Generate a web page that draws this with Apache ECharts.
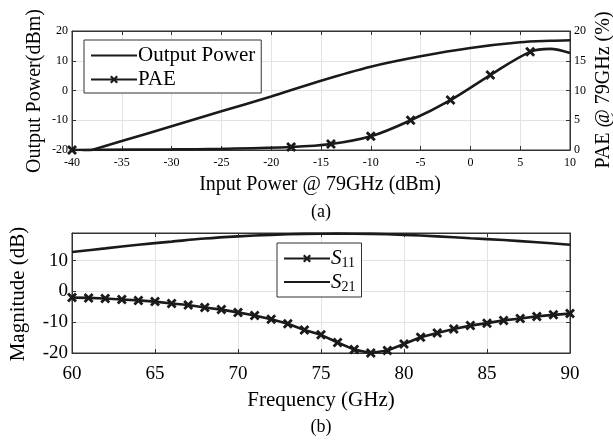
<!DOCTYPE html>
<html><head><meta charset="utf-8">
<script src="https://cdn.jsdelivr.net/npm/echarts@6/dist/echarts.min.js"></script>
<style>html,body{margin:0;padding:0;background:#fff}#c{width:613px;height:444px}</style>
</head><body><div id="c"></div>
<script>
// ---- Data: plot (a)
const pinX = [-40, -35, -30, -25, -20, -15, -10, -5, 0, 5, 8, 10];
const poutY = [-22, -17, -12, -7, -2, 3.3, 8, 11.5, 14.3, 16.2, 16.7, 16.9];
const paeX = [-40, -30, -25, -18, -14, -10, -6, -2, 2, 6, 8, 10];
const paeY = [0, 0.1, 0.2, 0.5, 1.0, 2.3, 5.0, 8.4, 12.6, 16.5, 17.0, 16.3];
const paeMarked = [true, false, false, true, true, true, true, true, true, true, false, false];
const xTicksA = [-40, 10, 5];
// ---- Data: plot (b)
const freq = [60,61,62,63,64,65,66,67,68,69,70,71,72,73,74,75,76,77,78,79,80,81,82,83,84,85,86,87,88,89,90];
const s11 = [-2,-2.1,-2.3,-2.6,-2.9,-3.3,-3.9,-4.4,-5.2,-5.9,-6.8,-7.8,-9.0,-10.5,-12.5,-14.1,-16.6,-18.9,-20,-19.2,-17.1,-14.9,-13.5,-12.2,-11.1,-10.3,-9.4,-8.8,-8.1,-7.6,-7.2];
const s21F = [60,62,64,66,68,70,72,74,76,78,80,82,84,86,88,90];
const s21 = [12.8,14,15.2,16.2,17.2,17.9,18.4,18.7,18.8,18.7,18.4,17.9,17.3,16.7,16,15.2];

const C = '#1a1a1a';
const FONT = 'Liberation Serif';
const XMARK = 'path://M0,2 L2,0 L5,3 L8,0 L10,2 L7,5 L10,8 L8,10 L5,7 L2,10 L0,8 L3,5 Z';
const gridLine = {show:true, lineStyle:{color:'#e3e3e3', width:1}};
const axLine = {show:true, onZero:false, lineStyle:{color:'#333', width:1}};
const tick = {show:true, inside:true, length:4, lineStyle:{color:'#333'}};

function axisX(gi, min, max, interval, fs, top, margin) {
  return {type:'value', gridIndex:gi, min, max, interval, position: top?'top':'bottom',
    axisLine: axLine, axisTick: tick, splitLine: top?{show:false}:gridLine,
    axisLabel: top?{show:false}:{color:'#000', fontFamily:FONT, fontSize:fs, margin}};
}
function axisY(gi, min, max, interval, fs, right, labels, grid) {
  return {type:'value', gridIndex:gi, min, max, interval, position: right?'right':'left',
    axisLine: axLine, axisTick: tick, splitLine: grid?gridLine:{show:false},
    axisLabel: labels?{color:'#000', fontFamily:FONT, fontSize:fs, margin:4, showMaxLabel: max % interval === 0}:{show:false}};
}

const paeData = paeX.map((x,i)=> paeMarked[i] ? [x, paeY[i]] : {value:[x, paeY[i]], symbol:'none'});
const legendText = {fontFamily:FONT, fontSize:21, color:'#000', padding:[0,0,0,-4]};

const option = {
  animation:false,
  backgroundColor:'#fff',
  grid:[
    {left:72, right:43, top:31, height:119, show:true, borderColor:'#333', borderWidth:1},
    {left:72, right:43, top:233, height:120, show:true, borderColor:'#333', borderWidth:1}
  ],
  xAxis:[
    axisX(0, xTicksA[0], xTicksA[1], xTicksA[2], 12, false, 7),
    axisX(0, xTicksA[0], xTicksA[1], xTicksA[2], 12, true, 0),
    axisX(1, 60, 90, 5, 19, false, 12),
    axisX(1, 60, 90, 5, 19, true, 0)
  ],
  yAxis:[
    axisY(0, -20, 20, 10, 12, false, true, true),
    axisY(0, 0, 20, 5, 12, true, true, false),
    axisY(1, -20, 19, 10, 19, false, true, true),
    axisY(1, -20, 19, 10, 19, true, false, false)
  ],
  legend:[
    {data:[{name:'Output Power', itemStyle:{opacity:0}},'PAE'], left:84, top:40, orient:'vertical', itemWidth:46, itemHeight:10, itemGap:3,
     padding:[5,6,3,6], borderColor:'#333', borderWidth:1, backgroundColor:'#fff', textStyle:legendText},
    {data:['S11',{name:'S21', itemStyle:{opacity:0}}], left:277, top:243, orient:'vertical', itemWidth:46, itemHeight:10, itemGap:1,
     padding:[5,6,3,6], borderColor:'#333', borderWidth:1, backgroundColor:'#fff',
     formatter: n => n==='S11' ? '{s|S}{b|11}' : '{s|S}{b|21}',
     textStyle:Object.assign({}, legendText, {
       rich:{s:{fontFamily:FONT, fontStyle:'italic', fontSize:21, color:'#000'},
             b:{fontFamily:FONT, fontSize:14, color:'#000', verticalAlign:'bottom', padding:[10,0,0,0]}}})}
  ],
  series:[
    {name:'Output Power', type:'line', xAxisIndex:0, yAxisIndex:0, smooth:0.3, symbol:'none',
     lineStyle:{color:C, width:2.6}, itemStyle:{color:C}, data: pinX.map((x,i)=>[x,poutY[i]])},
    {name:'PAE', type:'line', xAxisIndex:0, yAxisIndex:1, smooth:0.35, symbol:XMARK, symbolSize:10, showSymbol:true,
     lineStyle:{color:C, width:2.6}, itemStyle:{color:C}, data: paeData},
    {name:'S11', type:'line', xAxisIndex:2, yAxisIndex:2, symbol:XMARK, symbolSize:10,
     lineStyle:{color:C, width:2.6}, itemStyle:{color:C}, data: freq.map((f,i)=>[f,s11[i]])},
    {name:'S21', type:'line', xAxisIndex:2, yAxisIndex:2, smooth:0.3, symbol:'none',
     lineStyle:{color:C, width:2.6}, itemStyle:{color:C}, data: s21F.map((f,i)=>[f,s21[i]])}
  ],
  graphic:[
    {type:'text', x:35, y:91, rotation:Math.PI/2, style:{text:'Output Power(dBm)', font:'20px "Liberation Serif"', fill:'#000', align:'center', verticalAlign:'middle'}},
    {type:'text', x:604, y:90, rotation:Math.PI/2, style:{text:'PAE @ 79GHz (%)', font:'20px "Liberation Serif"', fill:'#000', align:'center', verticalAlign:'middle'}},
    {type:'text', x:320, y:185, style:{text:'Input Power @ 79GHz (dBm)', font:'20px "Liberation Serif"', fill:'#000', align:'center', verticalAlign:'middle'}},
    {type:'text', x:321, y:212, style:{text:'(a)', font:'18px "Liberation Serif"', fill:'#000', align:'center', verticalAlign:'middle'}},
    {type:'text', x:18, y:294, rotation:Math.PI/2, style:{text:'Magnitude (dB)', font:'21px "Liberation Serif"', fill:'#000', align:'center', verticalAlign:'middle'}},
    {type:'text', x:321, y:400, style:{text:'Frequency (GHz)', font:'21px "Liberation Serif"', fill:'#000', align:'center', verticalAlign:'middle'}},
    {type:'text', x:321, y:427, style:{text:'(b)', font:'18px "Liberation Serif"', fill:'#000', align:'center', verticalAlign:'middle'}}
  ]
};
const chart = echarts.init(document.getElementById('c'), null, {renderer:'canvas'});
chart.setOption(option);
</script></body></html>
